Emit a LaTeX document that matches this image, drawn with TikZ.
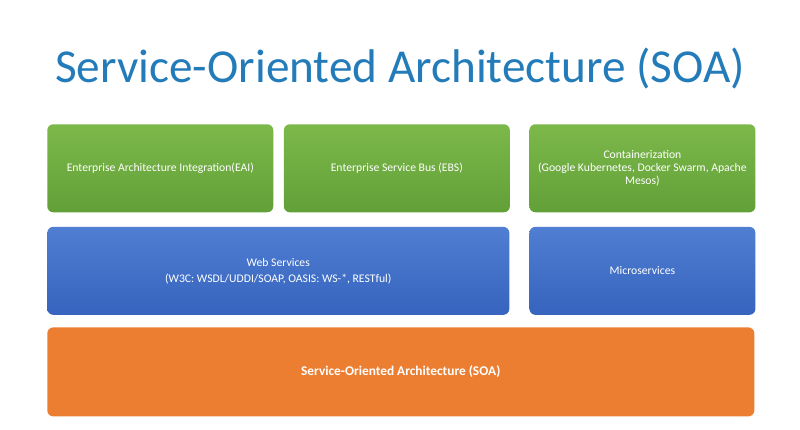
\documentclass[tikz,border=0pt]{standalone}
\usepackage{fontspec}
\setmainfont{Carlito}
\usepackage{tikz}
\usetikzlibrary{positioning}

\definecolor{titleblue}{RGB}{35,124,185}
\definecolor{greentop}{RGB}{124,184,74}
\definecolor{greenbot}{RGB}{98,160,56}
\definecolor{bluetop}{RGB}{80,126,210}
\definecolor{bluebot}{RGB}{54,100,190}
\definecolor{soaorange}{RGB}{236,126,50}

\begin{document}
\begin{tikzpicture}[
    layer/.style={rectangle, rounded corners=0.15cm, minimum height=2.2cm, align=center, text=white, font=\fontsize{8.3}{9.4}\selectfont, inner sep=2pt},
    greenbox/.style={layer, top color=greentop, bottom color=greenbot, minimum width=5.65cm},
    bluebox/.style={layer, top color=bluetop, bottom color=bluebot},
    orangebox/.style={layer, fill=soaorange, minimum width=17.675cm, minimum height=2.225cm},
]
\useasboundingbox (0,0) rectangle (20,-10.75);
\fill[white] (0,0) rectangle (20,-10.75);

% Title
\node[font=\fontsize{33.6}{36}\selectfont, text=titleblue] (title) at (10,-1.72) {Service-Oriented Architecture (SOA)};

% Top row
\node[greenbox, anchor=north west] (eai) at (1.175,-3.1) {Enterprise Architecture Integration(EAI)};
\node[greenbox, right=0.25cm of eai] (esb) {Enterprise Service Bus (EBS)};
\node[greenbox, right=0.475cm of esb] (cont) {Containerization\\(Google Kubernetes, Docker Swarm, Apache\\Mesos)};

% Middle row
\node[bluebox, minimum width=11.55cm, below=0.35cm of eai.south west, anchor=north west] (ws) {Web Services\\[2pt](W3C: WSDL/UDDI/SOAP, OASIS: WS-*, RESTful)};
\node[bluebox, minimum width=5.65cm, below=0.35cm of cont] (micro) {Microservices};

% Base
\node[orangebox, below=0.3cm of ws.south west, anchor=north west, font=\fontsize{9.5}{11}\selectfont\bfseries] (soa) {Service-Oriented Architecture (SOA)};
\end{tikzpicture}
\end{document}
